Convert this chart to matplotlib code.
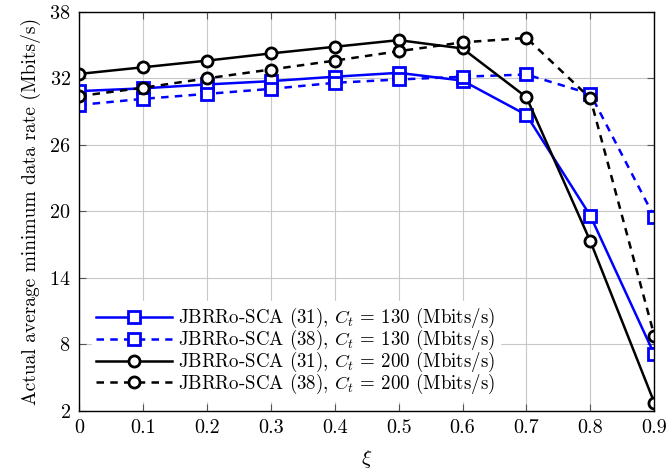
import matplotlib
matplotlib.use("Agg")
import matplotlib.pyplot as plt
import numpy as np

plt.rcParams['font.family'] = 'serif'
plt.rcParams['font.serif'] = ['cmr10']
plt.rcParams['mathtext.fontset'] = 'cm'
plt.rcParams['axes.formatter.use_mathtext'] = True

xi = [0, 0.1, 0.2, 0.3, 0.4, 0.5, 0.6, 0.7, 0.8, 0.9]
rate_31_130 = [30.85, 31.1, 31.45, 31.75, 32.15, 32.5, 31.8, 28.7, 19.6, 7.1]
rate_38_130 = [29.6, 30.15, 30.6, 31.05, 31.6, 31.9, 32.15, 32.35, 30.6, 19.5]
rate_31_200 = [32.4, 33.0, 33.6, 34.25, 34.85, 35.45, 34.7, 30.3, 17.3, 2.75]
rate_38_200 = [30.4, 31.15, 32.0, 32.8, 33.6, 34.45, 35.25, 35.65, 30.2, 8.8]

labels = [r'JBRRo-SCA (31), $C_t$ = 130 (Mbits/s)',
          r'JBRRo-SCA (38), $C_t$ = 130 (Mbits/s)',
          r'JBRRo-SCA (31), $C_t$ = 200 (Mbits/s)',
          r'JBRRo-SCA (38), $C_t$ = 200 (Mbits/s)']

fig = plt.figure(figsize=(6.69, 4.75), dpi=100)
ax = fig.add_axes([0.118, 0.135, 0.860, 0.84])

ax.plot(xi, rate_31_130, '-', color='blue', lw=1.8, marker='s', ms=8.5, mfc='white', mew=2, label=labels[0])
ax.plot(xi, rate_38_130, '--', color='blue', lw=1.8, marker='s', ms=8.5, mfc='white', mew=2, label=labels[1], dashes=(3, 2.5))
ax.plot(xi, rate_31_200, '-', color='black', lw=1.8, marker='o', ms=8, mfc='white', mew=2, label=labels[2])
ax.plot(xi, rate_38_200, '--', color='black', lw=1.8, marker='o', ms=8, mfc='white', mew=2, label=labels[3], dashes=(3, 2.5))

ax.set_xlim(0, 0.9)
ax.set_ylim(2, 38)
ax.set_xticks(xi)
ax.set_xticklabels(['0', '0.1', '0.2', '0.3', '0.4', '0.5', '0.6', '0.7', '0.8', '0.9'])
ax.set_yticks([2, 8, 14, 20, 26, 32, 38])
ax.grid(True, color='#c8c8c8', lw=0.8)
ax.tick_params(direction='in', length=5, right=True, top=True, labelsize=14.5, color='#555555', pad=6)
for s in ax.spines.values():
    s.set_linewidth(1)

ax.set_xlabel(r'$\xi$', fontsize=15, labelpad=8)
ax.set_ylabel('Actual average minimum data rate (Mbits/s)', fontsize=14, labelpad=6)

leg = ax.legend(loc='lower left', bbox_to_anchor=(0.022, 0.025), fontsize=13.6, frameon=True,
                fancybox=False, edgecolor='white', framealpha=1, handlelength=4.0,
                handletextpad=0.35, borderaxespad=0, labelspacing=-0.12, borderpad=0.25)

fig.savefig('out.png', dpi=100)
